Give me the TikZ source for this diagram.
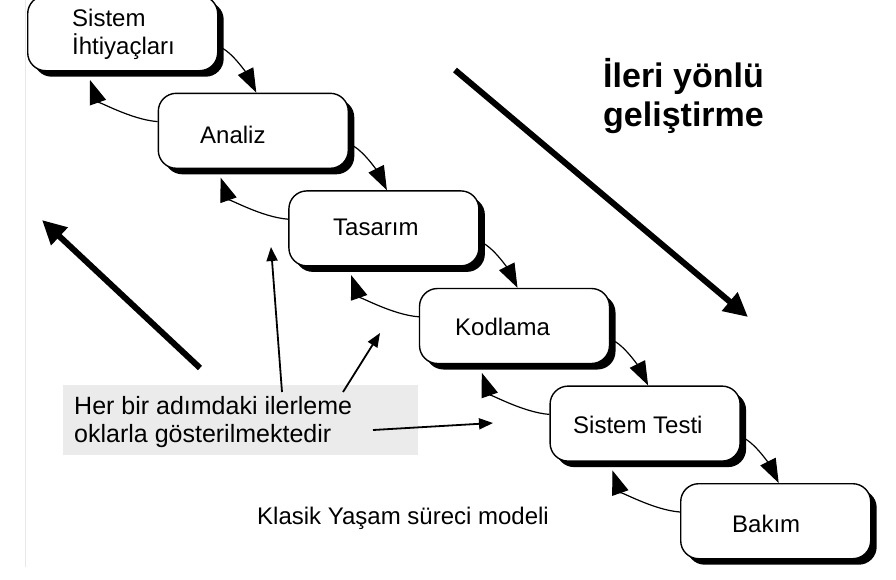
\documentclass[tikz,border=0pt]{standalone}
\usepackage{fontspec}
\setmainfont{Liberation Sans}
\usetikzlibrary{arrows.meta,shadows}
\definecolor{anngray}{HTML}{EBEBEB}
\begin{document}
\begin{tikzpicture}[x=1pt,y=-1pt,
  stagebox/.style={draw=black, line width=1.4pt, fill=white, rounded corners=18pt,
    minimum width=190pt, minimum height=75pt, anchor=north west, inner sep=0pt,
    drop shadow={shadow xshift=6pt, shadow yshift=-6pt, fill=black, opacity=1}},
  stagelbl/.style={anchor=base west, inner sep=0pt, font=\fontsize{24}{28}\selectfont},
  flowarrow/.style={line width=1.2pt, -{Triangle[length=24pt,width=17pt]}},
  bigarrow/.style={line width=6pt, -{Triangle[length=24pt,width=23pt]}},
  notearrow/.style={line width=1.8pt, -{Triangle[length=14pt,width=11pt]}},
  annbox/.style={fill=anngray, draw=none, anchor=north west, minimum width=355pt,
    minimum height=70pt, inner sep=0pt},
  plaintext/.style={anchor=base west, inner sep=0pt, font=\fontsize{25}{28}\selectfont},
  headtext/.style={anchor=base west, inner sep=0pt, font=\bfseries\fontsize{34}{39}\selectfont}
]
\useasboundingbox (0,0) rectangle (896,579);
\clip (0,0) rectangle (896,579);
\fill[white] (0,0) rectangle (896,579);
\draw[gray!18, line width=1pt] (25,0) -- (25,567);

% stage boxes
\node[stagebox] (b0) at (27,-5) {};
\node[stagebox] (b1) at (157.6,92.6) {};
\node[stagebox] (b2) at (288.2,190.2) {};
\node[stagebox] (b3) at (418.8,287.8) {};
\node[stagebox] (b4) at (549.4,385.4) {};
\node[stagebox] (b5) at (680,483) {};

% labels
\node[stagelbl] (t0a) at (72,26) {Sistem};
\node[stagelbl] (t0b) at (72,54) {İhtiyaçları};
\node[stagelbl] (t1) at (200,143) {Analiz};
\node[stagelbl] (t2) at (333,235) {Tasarım};
\node[stagelbl] (t3) at (455,335) {Kodlama};
\node[stagelbl] (t4) at (573,433) {Sistem Testi};
\node[stagelbl] (t5) at (732,532) {Bakım};

% forward and backward connectors
\foreach \a/\b in {b0/b1,b1/b2,b2/b3,b3/b4,b4/b5}{
  \draw[flowarrow] ([shift={(195,53)}]\a.north west) .. controls +(13,7) and +(-8,-16) .. ([shift={(3,0)}]\b.north);
  \draw[flowarrow] ([shift={(0,29)}]\b.north west) .. controls +(-27,-2) and +(7,20) .. ([shift={(63,85)}]\a.north west);
}

% big arrows
\coordinate (la1) at (200,368);
\coordinate (la2) at (42,220);
\coordinate (ra1) at (455,70);
\coordinate (ra2) at (748,317);
\draw[bigarrow] (la1) -- (la2);
\draw[bigarrow] (ra1) -- (ra2);

\node[headtext] (h1) at (603,87) {İleri yönlü};
\node[headtext] (h2) at (603,126) {geliştirme};

% annotation
\node[annbox] (ann) at (63,385) {};
\node[plaintext] (n1) at (74,414) {Her bir adımdaki ilerleme};
\node[plaintext] (n2) at (74,442) {oklarla gösterilmektedir};
\coordinate (va1) at (282,392);
\coordinate (va2) at (271,247);
\coordinate (da1) at (343,392);
\coordinate (da2) at (380,333);
\coordinate (ha1) at (373,430);
\coordinate (ha2) at (493,423);
\draw[notearrow] (va1) -- (va2);
\draw[notearrow] (da1) -- (da2);
\draw[notearrow] (ha1) -- (ha2);

\node[stagelbl] (cap) at (257,524) {Klasik Yaşam süreci modeli};
\end{tikzpicture}
\end{document}
